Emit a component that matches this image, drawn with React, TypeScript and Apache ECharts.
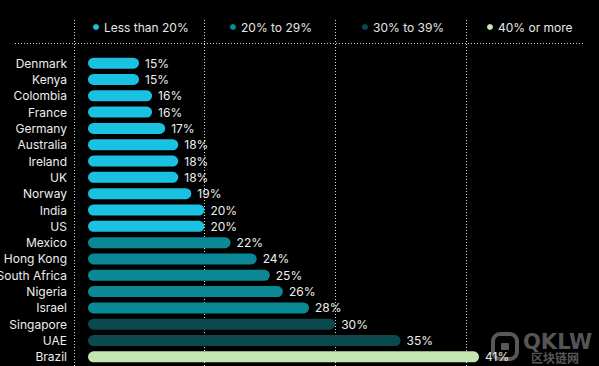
import React, { useEffect, useRef } from "react";
import * as echarts from "echarts";

const categories = [
  "Denmark", "Kenya", "Colombia", "France", "Germany", "Australia", "Ireland", "UK", "Norway",
  "India", "US", "Mexico", "Hong Kong", "South Africa", "Nigeria", "Israel", "Singapore", "UAE", "Brazil",
];
const values = [15, 15, 16, 16, 17, 18, 18, 18, 19, 20, 20, 22, 24, 25, 26, 28, 30, 35, 41];
const groupNames = ["Less than 20%", "20% to 29%", "30% to 39%", "40% or more"];
// upper bound (inclusive) of each colour group as it is coloured in the picture
const groupMaxInclusive = [20, 29, 39, Infinity];
const groupColors = ["#1ac2e2", "#0b8896", "#0a4a4f", "#c4e6b1"];
const gridTicks = [10, 20, 30, 40];

const FONT = "Inter, 'Noto Sans', sans-serif";

function groupOf(v: number) {
  for (let i = 0; i < groupMaxInclusive.length; i++) if (v <= groupMaxInclusive[i]) return i;
  return groupMaxInclusive.length - 1;
}

export default function App() {
  const ref = useRef<HTMLDivElement>(null);
  useEffect(() => {
    document.body.style.margin = "0";
    const chart = echarts.init(ref.current!, null, { renderer: "svg" });
    const series = groupNames.map((name, gi) => ({
      name,
      type: "bar",
      data: values.map((v) => (groupOf(v) === gi ? v : null)),
      barWidth: 11,
      barGap: "-100%",
      itemStyle: { color: groupColors[gi], borderRadius: 5.5 },
      label: {
        show: true,
        position: "right",
        distance: 6,
        color: "#eeeeee",
        fontSize: 12,
        fontFamily: FONT,
        formatter: "{c}%",
      },
    }));
    const legendLeft = [93, 230, 362, 487];
    chart.setOption({
      animation: false,
      backgroundColor: "#000000",
      textStyle: { fontFamily: FONT },
      grid: {
        left: 88,
        right: 14,
        top: 55,
        bottom: 1,
        containLabel: false,
        outerBoundsMode: "none",
      },
      legend: groupNames.map((name, i) => ({
        data: [name],
        left: legendLeft[i],
        top: 21,
        padding: 0,
        icon: "circle",
        itemWidth: 6,
        itemHeight: 6,
        selectedMode: false,
        textStyle: { color: "#e6e6e6", fontSize: 12, fontFamily: FONT },
      })),
      xAxis: {
        type: "value",
        min: 11.1,
        max: 49.1,
        show: false,
        splitLine: { show: false },
      },
      yAxis: {
        type: "category",
        data: categories,
        inverse: true,
        offset: 15,
        axisLine: { show: false },
        axisTick: { show: false },
        axisLabel: { color: "#eeeeee", fontSize: 12, fontFamily: FONT, margin: 6 },
      },
      series,
    });

    const lineStyle = { stroke: "#d8d8d8", lineWidth: 1, lineDash: [1, 2] };
    const vlines = gridTicks.map((t) => {
      const x = Math.round(chart.convertToPixel({ xAxisIndex: 0 }, t) as number) + 0.5;
      return {
        type: "line",
        shape: { x1: x, y1: 20, x2: x, y2: 366 },
        style: lineStyle,
        z: -1,
      };
    });
    chart.setOption({
      graphic: [
        ...vlines,
        {
          type: "line",
          shape: { x1: 15, y1: 43.5, x2: 585, y2: 43.5 },
          style: lineStyle,
          z: -1,
        },
        {
          type: "group",
          z: 100,
          children: [
            {
              type: "rect",
              shape: { x: 493, y: 334, width: 24, height: 25, r: 7 },
              style: { fill: "none", stroke: "rgba(110,110,110,0.8)", lineWidth: 4 },
            },
            {
              type: "rect",
              shape: { x: 501, y: 343, width: 8, height: 7, r: 1 },
              style: { fill: "rgba(110,110,110,0.8)" },
            },
            {
              type: "text",
              x: 523,
              y: 331,
              style: {
                text: "QKLW",
                fill: "rgba(110,110,110,0.8)",
                fontSize: 21,
                fontWeight: "bold",
                fontFamily: "'DejaVu Sans', sans-serif",
              },
            },
            {
              type: "text",
              x: 531,
              y: 351,
              style: {
                text: "区块链网",
                fill: "rgba(110,110,110,0.8)",
                fontSize: 12,
                fontWeight: "bold",
                fontFamily: "'Noto Sans CJK SC', sans-serif",
              },
            },
          ],
        },
      ],
    });
    return () => chart.dispose();
  }, []);
  return (
    <div
      ref={ref}
      style={{ position: "fixed", left: 0, top: 0, width: 599, height: 366, background: "#000" }}
    />
  );
}
